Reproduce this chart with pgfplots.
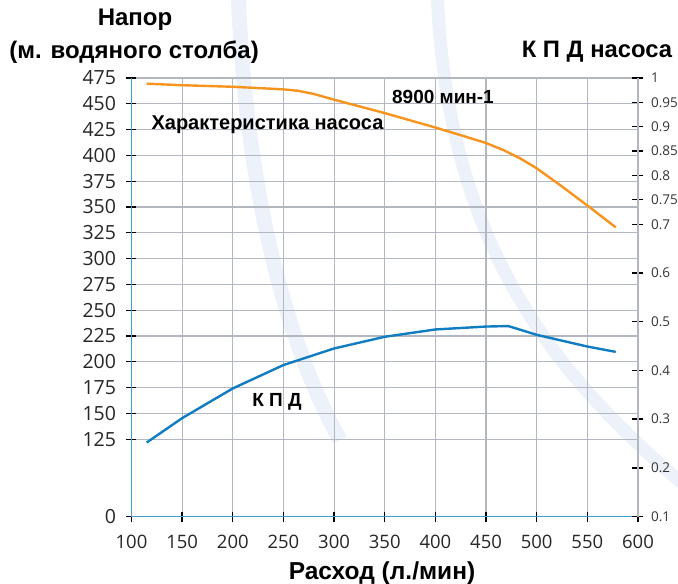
\documentclass[border=0pt]{standalone}
\usepackage{pgfplots}
\pgfplotsset{compat=1.18}
\usepackage{fontspec}
\setmainfont{Liberation Sans}
\newfontfamily\tickfont{Open Sans}
\definecolor{orng}{RGB}{247,148,29}
\definecolor{blu}{RGB}{16,124,193}
\definecolor{axblu}{RGB}{60,160,215}
\definecolor{gridc}{RGB}{178,183,192}
\definecolor{wm}{RGB}{236,241,250}
\begin{document}
\begin{tikzpicture}
\useasboundingbox (-131.5pt,-67.4pt) rectangle (546.5pt,516.6pt);
% faint watermark arcs
\draw[wm, line width=15pt] (106.5pt,530pt) .. controls (113.5pt,316.6pt) and (158.5pt,166.6pt) .. (208.5pt,76.6pt);
\draw[wm, line width=13pt] (305.5pt,530pt) .. controls (313.5pt,266.6pt) and (428.5pt,136.6pt) .. (558.5pt,26.6pt);
\begin{axis}[
  at={(0pt,0pt)}, anchor=south west, scale only axis,
  width=506.5pt, height=438.6pt,
  xmin=100, xmax=600, ymin=50, ymax=475,
  axis lines*=left,
  axis line style={draw=axblu, line width=1.3pt, -},
  xtick={100,150,...,600},
  ytick={50,125,150,175,200,225,250,275,300,325,350,375,400,425,450,475},
  yticklabels={0,125,150,175,200,225,250,275,300,325,350,375,400,425,450,475},
  grid=major,
  major grid style={draw=gridc, line width=1.1pt},
  tick align=center, major tick length=10pt,
  tick style={black, line width=1.3pt},
  /pgf/number format/assume math mode=true,
  yticklabel style={font=\tickfont\fontsize{19.5}{19.5}\selectfont, text=black!85, xshift=-7pt},
  xticklabel style={font=\tickfont\fontsize{18.5}{18.5}\selectfont, text=black!85, yshift=-10pt},
]
\addplot[orng, line width=2.4pt, line join=round] coordinates {
(115,469.5) (150,468) (200,466.5) (250,464) (265,462.5) (280,459.5)
(300,454) (350,441) (400,427) (427,419) (450,412) (467,405.2)
(483.5,397.2) (500,387.5) (523,371.3) (550,351.5) (578,330.3)};
\end{axis}
\begin{axis}[
  at={(0pt,0pt)}, anchor=south west, scale only axis,
  width=506.5pt, height=438.6pt,
  xmin=100, xmax=600, ymin=0.1, ymax=1,
  axis x line=none, axis y line*=right,
  axis line style={draw=gridc, line width=1.1pt, -},
  ytick={0.1,0.2,0.3,0.4,0.5,0.6,0.7,0.75,0.8,0.85,0.9,0.95,1},
  yticklabels={0.1,0.2,0.3,0.4,0.5,0.6,0.7,0.75,0.8,0.85,0.9,0.95,1},
  tick align=center, major tick length=11pt,
  tick style={black, line width=1.3pt},
  yticklabel style={font=\tickfont\fontsize{13.5}{13.5}\selectfont, text=black!80, xshift=4pt},
]
\addplot[blu, line width=2.4pt, line join=round] coordinates {
(115,0.252) (150,0.302) (200,0.363) (250,0.411) (300,0.445) (350,0.469)
(400,0.484) (450,0.490) (472,0.491) (500,0.473) (550,0.449) (578,0.438)};
\end{axis}
\node[font=\bfseries\fontsize{24}{24}\selectfont, inner sep=0] at (3.5pt,496.6pt) {Напор};
\node[font=\bfseries\fontsize{24}{24}\selectfont, inner sep=0] at (2.5pt,464.6pt) {(м. водяного столба)};
\node[font=\bfseries\fontsize{23.8}{23.8}\selectfont, inner sep=0] at (465.5pt,464.6pt) {К П Д насоса};
\node[font=\bfseries\fontsize{19}{19}\selectfont, inner sep=0] at (311.5pt,419.6pt) {8900 мин-1};
\node[font=\bfseries\fontsize{20}{20}\selectfont, inner sep=0] at (136pt,391.6pt) {Характеристика насоса};
\node[font=\bfseries\fontsize{19}{19}\selectfont, inner sep=0] at (145.5pt,114.6pt) {К П Д};
\node[font=\bfseries\fontsize{24.5}{24.5}\selectfont, inner sep=0] at (250.5pt,-56.4pt) {Расход (л./мин)};
\end{tikzpicture}
\end{document}
